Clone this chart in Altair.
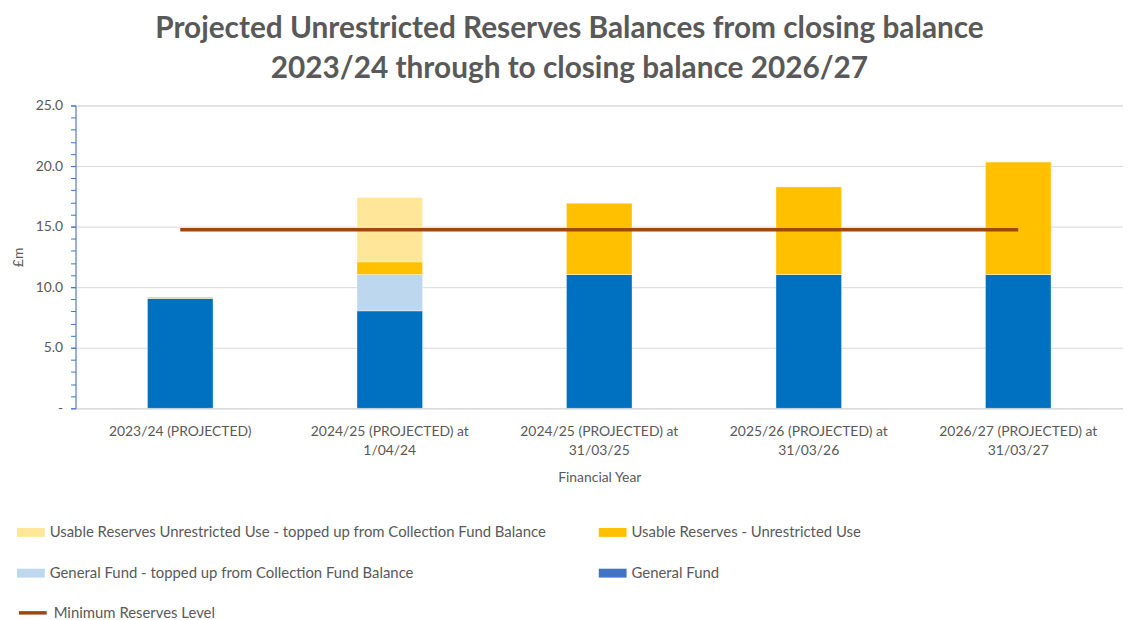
import altair as alt
import pandas as pd

categories = [
    "2023/24 (PROJECTED)",
    "2024/25 (PROJECTED) at 1/04/24",
    "2024/25 (PROJECTED) at 31/03/25",
    "2025/26 (PROJECTED) at 31/03/26",
    "2026/27 (PROJECTED) at 31/03/27",
]
general_fund = [9.08, 8.05, 11.05, 11.05, 11.05]
general_fund_topped = [0.0, 3.0, 0.0, 0.0, 0.0]
usable_unrestricted = [0.12, 1.05, 5.9, 7.25, 9.3]
usable_topped = [0.0, 5.3, 0.0, 0.0, 0.0]
minimum_level = [14.75, 14.75, 14.75, 14.75, 14.75]

major_ticks = [0, 5, 10, 15, 20, 25]
minor_ticks = list(range(0, 26))

series_names = [
    "Usable Reserves Unrestricted Use - topped up from Collection Fund Balance",
    "General Fund - topped up from Collection Fund Balance",
    "Usable Reserves - Unrestricted Use",
    "General Fund",
]
bar_colors = ["#FFE699", "#BDD7EE", "#FFC000", "#0070C0"]
legend_colors = ["#FFE699", "#BDD7EE", "#FFC000", "#4472C4"]
stack_order = {
    "General Fund": 0,
    "General Fund - topped up from Collection Fund Balance": 1,
    "Usable Reserves - Unrestricted Use": 2,
    "Usable Reserves Unrestricted Use - topped up from Collection Fund Balance": 3,
}
line_name = "Minimum Reserves Level"
line_color = "#9E480E"

rows = []
for i, c in enumerate(categories):
    for name, vals in [
        ("General Fund", general_fund),
        ("General Fund - topped up from Collection Fund Balance", general_fund_topped),
        ("Usable Reserves - Unrestricted Use", usable_unrestricted),
        ("Usable Reserves Unrestricted Use - topped up from Collection Fund Balance", usable_topped),
    ]:
        rows.append({"year": c, "series": name, "value": vals[i], "ord": stack_order[name]})
bars_df = pd.DataFrame(rows)
line_df = pd.DataFrame({"year": categories, "value": minimum_level, "series": [line_name] * len(categories)})

FONT = "Lato"
GREY = "#595959"
AXIS_BLUE = "#4472C4"

x_enc = alt.X(
    "year:N",
    sort=categories,
    title="Financial Year",
    scale=alt.Scale(paddingInner=0.687, paddingOuter=0.3435),
    axis=alt.Axis(
        labelAngle=0,
        labelExpr="split(replace(datum.label, ' at ', ' at|'), '|')",
        labelLineHeight=20,
        labelPadding=16,
        labelFontSize=14,
        labelColor=GREY,
        labelFont=FONT,
        ticks=False,
        domainColor="#D9D9D9",
        domainWidth=1,
        titleFontSize=14,
        titleFont=FONT,
        titleColor=GREY,
        titleFontWeight="normal",
        titlePadding=13,
        labelLimit=300,
    ),
)

y_scale = alt.Scale(domain=[0, 25], nice=False)
y_axis_major = alt.Axis(
    orient="left",
    values=major_ticks,
    labelExpr="datum.value === 0 ? '-' : format(datum.value, '.1f')",
    labelOverlap=False,
    labelFontSize=14,
    labelFont=FONT,
    labelColor=GREY,
    labelPadding=8,
    tickSize=5,
    tickColor=AXIS_BLUE,
    domainColor=AXIS_BLUE,
    gridColor="#D9D9D9",
    grid=True,
    title="£m",
    titleFontSize=14,
    titleFont=FONT,
    titleColor=GREY,
    titleFontWeight="normal",
    titlePadding=10,
)
y_axis_minor = alt.Axis(
    orient="left",
    values=minor_ticks,
    labels=False,
    grid=False,
    domain=False,
    tickSize=5,
    tickColor=AXIS_BLUE,
    title=None,
)

# invisible layer that carries the legend (Excel shows the General Fund swatch in a lighter blue)
legend_layer = alt.Chart(bars_df).mark_bar(opacity=0).encode(
    x=x_enc,
    y=alt.Y("value:Q", stack="zero", scale=y_scale, axis=y_axis_major),
    fill=alt.Fill(
        "series:N",
        scale=alt.Scale(domain=series_names, range=legend_colors),
        legend=alt.Legend(
            orient="none",
            legendX=-59,
            legendY=416,
            columns=2,
            columnPadding=52,
            rowPadding=19,
            title=None,
            symbolType="M-1,-0.32L1,-0.32L1,0.32L-1,0.32Z",
            symbolSize=784,
            symbolStrokeWidth=0,
            symbolOpacity=1,
            labelFontSize=15,
            labelFont=FONT,
            labelColor=GREY,
            labelOffset=5,
            labelLimit=600,
            padding=0,
        ),
    ),
    order=alt.Order("ord:Q", sort="ascending"),
)

bars = alt.Chart(bars_df).mark_bar(stroke="white", strokeWidth=0.6, strokeOpacity=0.6).encode(
    x=alt.X("year:N", sort=categories),
    y=alt.Y("value:Q", stack="zero", scale=y_scale, axis=y_axis_minor),
    fill=alt.Fill(
        "series:N",
        scale=alt.Scale(domain=series_names, range=bar_colors),
        legend=None,
    ),
    order=alt.Order("ord:Q", sort="ascending"),
)

line = alt.Chart(line_df).mark_line(strokeWidth=3.5).encode(
    x=alt.X("year:N", sort=categories),
    y=alt.Y("value:Q", scale=y_scale, axis=None),
    stroke=alt.Stroke(
        "series:N",
        scale=alt.Scale(domain=[line_name], range=[line_color]),
        legend=alt.Legend(
            orient="none",
            legendX=-59,
            legendY=495,
            title=None,
            symbolType="stroke",
            symbolSize=784,
            symbolStrokeWidth=3.5,
            labelFontSize=15,
            labelFont=FONT,
            labelColor=GREY,
            labelOffset=5,
            labelLimit=600,
            padding=0,
        ),
    ),
)

chart = (
    alt.layer(legend_layer, bars, line)
    .resolve_scale(fill="independent", stroke="independent")
    .resolve_axis(y="independent")
    .properties(
        width=1055,
        height=305,
        autosize=alt.AutoSizeParams(type="none"),
        padding={"left": 68, "top": 96, "right": 0, "bottom": 211},
        title=alt.TitleParams(
            text=[
                "Projected Unrestricted Reserves Balances from closing balance",
                "2023/24 through to closing balance 2026/27",
            ],
            font=FONT,
            fontSize=30,
            fontWeight="bold",
            color=GREY,
            anchor="middle",
            frame="group",
            dx=-30,
            offset=15,
            lineHeight=40,
        ),
    )
    .configure_view(stroke=None)
    .configure(font=FONT)
)

chart.save("out.html", embed_options={"renderer": "svg", "actions": False})
